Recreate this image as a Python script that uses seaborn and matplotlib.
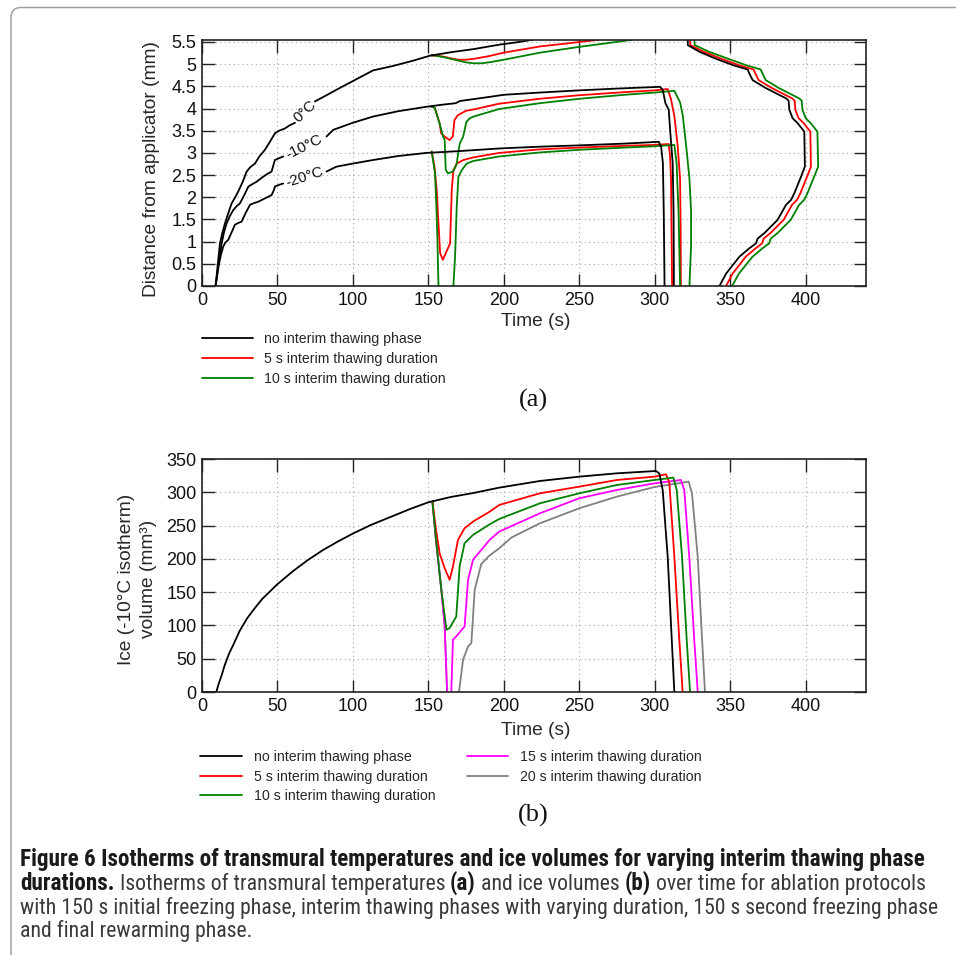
import matplotlib
matplotlib.use("Agg")
import matplotlib.pyplot as plt
import pandas as pd
import seaborn as sns
from matplotlib import font_manager
from matplotlib.colors import to_hex
from matplotlib.patches import FancyBboxPatch
from matplotlib.transforms import IdentityTransform
from matplotlib.ticker import MultipleLocator, FuncFormatter

# ---------------- data ----------------
SERIES_A = ["no interim thawing phase", "5 s interim thawing duration", "10 s interim thawing duration"]
SERIES_B = SERIES_A + ["15 s interim thawing duration", "20 s interim thawing duration"]
COLORS = ["#000000", "#ff0000", "#008000", "#ff00ff", "#808080"]
ISO_LABELS = ["0°C", "-10°C", "-20°C"]

# (a) 0 °C isotherm
a0_black_t1 = [9.0, 10.5, 11.9, 13.5, 15.2, 17.5, 19.6, 22.0, 24.0, 27.0, 29.6, 32.0, 35.1, 38.0, 41.7, 45.0, 48.3, 51.0, 54.9, 58.0, 61.6]
a0_black_v1 = [0.0, 0.5, 0.96, 1.2, 1.41, 1.65, 1.86, 2.0, 2.13, 2.35, 2.58, 2.68, 2.76, 2.92, 3.07, 3.25, 3.44, 3.5, 3.55, 3.62, 3.68]
a0_black_t2 = [74.8, 82.5, 90.0, 100.0, 113.4, 126.6, 140.0, 150.9, 165.0, 180.0, 197.0, 210.0, 219.0]
a0_black_v2 = [4.16, 4.30, 4.44, 4.62, 4.86, 4.96, 5.08, 5.19, 5.27, 5.34, 5.44, 5.50, 5.55]
a0_black_t3 = [321.9, 321.9, 329.6, 340.0, 351.7, 361.6, 362.7, 364.9, 373.7, 387.0, 388.7, 389.2, 391.4, 394.7, 399.1, 399.5, 396.9, 392.5, 390.3, 387.0, 381.4, 372.6, 368.2, 367.1, 362.7, 356.1, 351.7, 347.3, 342.9]
a0_black_v3 = [5.55, 5.43, 5.28, 5.13, 4.98, 4.88, 4.79, 4.64, 4.46, 4.23, 4.18, 3.97, 3.78, 3.67, 3.48, 2.69, 2.46, 2.09, 1.94, 1.83, 1.49, 1.19, 1.07, 0.96, 0.85, 0.66, 0.47, 0.28, 0.0]
a0_red_t2 = [152.0, 155.0, 160.0, 165.0, 170.0, 175.0, 180.0, 190.0, 200.0, 212.0, 224.0, 240.0, 263.0]
a0_red_v2 = [5.20, 5.19, 5.17, 5.13, 5.10, 5.10, 5.12, 5.18, 5.26, 5.33, 5.40, 5.46, 5.55]
a0_red_t3 = [323.4, 323.6, 332.5, 343.5, 355.5, 365.5, 366.7, 368.9, 377.7, 391.0, 392.7, 393.2, 395.4, 398.7, 403.1, 403.5, 400.9, 396.5, 394.3, 391.0, 385.4, 376.6, 372.2, 371.1, 366.9, 360.3, 356.0, 351.6, 347.3]
a0_red_v3 = [5.55, 5.43, 5.28, 5.13, 4.98, 4.88, 4.79, 4.64, 4.46, 4.23, 4.18, 3.97, 3.78, 3.67, 3.48, 2.69, 2.46, 2.09, 1.94, 1.83, 1.49, 1.19, 1.07, 0.96, 0.85, 0.66, 0.47, 0.28, 0.0]
a0_green_t2 = [152.0, 155.0, 160.0, 165.0, 170.0, 175.0, 180.0, 185.0, 190.0, 200.0, 212.0, 224.0, 250.0, 270.0, 285.0]
a0_green_v2 = [5.20, 5.19, 5.16, 5.12, 5.08, 5.04, 5.02, 5.02, 5.04, 5.10, 5.18, 5.26, 5.39, 5.48, 5.55]
a0_green_t3 = [326.3, 326.5, 336.0, 348.0, 360.3, 370.2, 371.4, 373.6, 382.4, 395.6, 397.4, 397.9, 400.1, 403.4, 407.8, 408.3, 405.6, 401.2, 399.0, 395.7, 390.1, 381.3, 376.9, 375.8, 371.4, 364.8, 360.3, 355.8, 351.3]
a0_green_v3 = [5.55, 5.43, 5.28, 5.13, 4.98, 4.88, 4.79, 4.64, 4.46, 4.23, 4.18, 3.97, 3.78, 3.67, 3.48, 2.69, 2.46, 2.09, 1.94, 1.83, 1.49, 1.19, 1.07, 0.96, 0.85, 0.66, 0.47, 0.28, 0.0]

# (a) -10 °C isotherm
a10_black_t1 = [9.0, 11.0, 13.0, 14.5, 16.3, 18.5, 20.7, 23.0, 25.1, 28.0, 30.7, 33.5, 36.2, 40.0, 43.0, 46.1, 47.3, 48.3, 51.0, 53.8]
a10_black_v1 = [0.0, 0.5, 0.95, 1.2, 1.41, 1.58, 1.71, 1.8, 1.86, 2.05, 2.24, 2.3, 2.35, 2.45, 2.52, 2.58, 2.72, 2.84, 2.88, 2.92]
a10_black_t2 = [82.5, 87.0, 100.0, 113.4, 130.0, 148.7, 160.0, 168.0, 171.0, 190.0, 200.0, 223.7, 250.0, 275.0, 303.5, 305.3, 307.1, 309.3, 310.2, 311.9, 312.5, 312.7]
a10_black_v2 = [3.37, 3.52, 3.68, 3.82, 3.94, 4.04, 4.09, 4.12, 4.17, 4.26, 4.31, 4.36, 4.41, 4.45, 4.49, 4.42, 4.12, 3.97, 3.52, 2.77, 1.64, 0.0]
a10_red_t = [152.0, 154.2, 157.4, 158.5, 160.7, 164.0, 166.2, 167.3, 169.5, 175.0, 180.0, 197.0, 223.7, 250.0, 280.0, 300.0, 308.6, 310.8, 313.0, 315.2, 316.8, 317.2, 317.3]
a10_red_v = [4.04, 4.02, 3.67, 3.44, 3.37, 3.29, 3.37, 3.74, 3.85, 3.95, 3.98, 4.11, 4.22, 4.30, 4.37, 4.41, 4.44, 4.21, 3.83, 3.16, 2.41, 1.2, 0.0]
a10_green_t = [152.0, 154.2, 157.4, 159.7, 160.8, 161.5, 163.0, 166.4, 168.6, 170.8, 173.0, 175.2, 177.4, 180.0, 197.0, 223.7, 250.0, 280.0, 300.0, 313.0, 316.8, 318.6, 320.8, 323.0, 324.1, 324.1, 323.0]
a10_green_v = [4.04, 4.02, 3.67, 3.37, 3.3, 2.62, 2.54, 2.58, 2.73, 3.21, 3.36, 3.7, 3.78, 3.82, 3.99, 4.12, 4.22, 4.31, 4.36, 4.40, 4.14, 3.84, 3.17, 2.42, 1.67, 0.92, 0.0]

# (a) -20 °C isotherm
a20_black_t1 = [9.0, 11.0, 12.5, 14.1, 15.5, 17.4, 19.5, 21.8, 24.0, 26.2, 29.0, 31.8, 34.5, 37.3, 42.0, 46.1, 47.5, 48.3, 51.0, 53.8]
a20_black_v1 = [0.0, 0.45, 0.7, 0.89, 0.98, 1.04, 1.2, 1.38, 1.42, 1.45, 1.65, 1.83, 1.87, 1.9, 1.98, 2.05, 2.15, 2.24, 2.28, 2.31]
a20_black_t2 = [82.5, 89.1, 100.0, 113.4, 130.0, 148.7, 170.0, 197.0, 223.7, 250.0, 280.0, 302.7, 304.3, 305.4, 306.0, 306.5]
a20_black_v2 = [2.58, 2.69, 2.76, 2.84, 2.93, 3.0, 3.04, 3.1, 3.14, 3.17, 3.21, 3.25, 3.13, 2.77, 1.64, 0.0]
a20_red_t = [152.2, 154.0, 155.5, 156.7, 157.8, 159.6, 162.3, 164.4, 165.5, 166.6, 168.8, 173.2, 180.0, 197.0, 223.7, 250.0, 280.0, 300.0, 309.3, 310.2, 310.8, 311.5]
a20_red_v = [3.03, 2.7, 2.17, 1.41, 0.74, 0.59, 0.8, 0.96, 2.17, 2.61, 2.76, 2.84, 2.9, 3.0, 3.08, 3.12, 3.16, 3.18, 3.2, 2.9, 2.42, 0.0]
a20_green_t1 = [152.2, 154.4, 155.3, 156.0, 156.7]
a20_green_v1 = [3.03, 2.54, 1.8, 1.04, 0.0]
a20_green_t2 = [166.6, 167.7, 168.8, 169.9, 172.1, 175.4, 180.0, 197.0, 223.7, 250.0, 280.0, 300.0, 313.0, 314.5, 315.8, 316.8]
a20_green_v2 = [0.0, 0.67, 1.79, 2.46, 2.61, 2.76, 2.82, 2.92, 3.01, 3.07, 3.12, 3.15, 3.18, 2.77, 1.64, 0.0]

# (b) ice volume of the -10 °C isotherm (mm^3)
b_black_t = [0.0, 9.5, 11.0, 13.0, 15.0, 18.0, 21.0, 25.0, 30.0, 35.0, 40.0, 50.0, 60.0, 70.0, 80.0, 90.0, 100.0, 112.0, 125.0, 138.0, 150.0, 165.0, 180.0, 197.0, 224.0, 250.0, 275.0, 300.9, 303.1, 305.3, 308.6, 311.3, 313.0]
b_black_v = [0, 0, 12, 25, 40, 58, 72, 92, 111, 126, 140, 162, 181, 198, 213, 226, 238, 251, 263, 275, 285, 293, 299, 307, 317, 323.5, 328.5, 332, 328, 303, 203, 78, 0]
b_red_t = [152.7, 155.0, 157.5, 160.8, 164.1, 166.3, 169.6, 174.0, 179.6, 190.0, 197.0, 224.0, 250.0, 275.0, 300.0, 307.5, 309.7, 313.0, 316.3, 318.5]
b_red_v = [286, 245, 208, 186, 168.5, 188.5, 228.5, 246, 256, 270, 281, 298.5, 308.5, 318.5, 323.5, 327, 314, 203, 78, 0]
b_green_t = [152.7, 155.0, 158.6, 162.0, 164.1, 168.5, 170.7, 174.0, 179.6, 190.0, 197.0, 224.0, 250.0, 275.0, 300.0, 312.4, 314.6, 318.1, 321.2, 323.4]
b_green_v = [286, 230, 153.5, 93.5, 96, 113.5, 188.5, 223.5, 236, 251, 260, 283.5, 298.5, 311, 318.5, 322, 303, 203, 78, 0]
b_magenta_t1 = [152.7, 155.0, 158.6, 160.8, 162.4]
b_magenta_v1 = [286, 230, 153.5, 100, 0]
b_magenta_t2 = [165.2, 166.3, 168.5, 174.0, 176.3, 179.6, 190.6, 197.0, 224.0, 250.0, 275.0, 300.0, 317.4, 319.6, 322.9, 326.2, 328.5]
b_magenta_v2 = [0, 78.5, 83.5, 98.5, 168.5, 198.5, 228.5, 241, 268.5, 291, 303.5, 313.5, 318.5, 303, 203, 78, 0]
b_gray_t1 = [152.7, 155.0, 158.6, 160.8, 162.4]
b_gray_v1 = [286, 230, 153.5, 100, 0]
b_gray_t2 = [170.3, 173.0, 176.3, 178.5, 180.7, 185.0, 190.0, 197.0, 205.0, 224.0, 250.0, 275.0, 300.0, 322.5, 324.7, 328.5, 331.4, 333.3]
b_gray_v2 = [0, 48.5, 68.5, 73.5, 153.5, 192, 204, 216, 232, 253.5, 276, 293.5, 308, 316, 298, 203, 78, 0]

SEGMENTS_A = [
    (SERIES_A[0], a0_black_t1, a0_black_v1), (SERIES_A[0], a0_black_t2, a0_black_v2), (SERIES_A[0], a0_black_t3, a0_black_v3),
    (SERIES_A[1], a0_red_t2, a0_red_v2), (SERIES_A[1], a0_red_t3, a0_red_v3),
    (SERIES_A[2], a0_green_t2, a0_green_v2), (SERIES_A[2], a0_green_t3, a0_green_v3),
    (SERIES_A[0], a10_black_t1, a10_black_v1), (SERIES_A[0], a10_black_t2, a10_black_v2),
    (SERIES_A[1], a10_red_t, a10_red_v), (SERIES_A[2], a10_green_t, a10_green_v),
    (SERIES_A[0], a20_black_t1, a20_black_v1), (SERIES_A[0], a20_black_t2, a20_black_v2),
    (SERIES_A[1], a20_red_t, a20_red_v),
    (SERIES_A[2], a20_green_t1, a20_green_v1), (SERIES_A[2], a20_green_t2, a20_green_v2),
]
SEGMENTS_B = [
    (SERIES_B[0], b_black_t, b_black_v), (SERIES_B[1], b_red_t, b_red_v), (SERIES_B[2], b_green_t, b_green_v),
    (SERIES_B[3], b_magenta_t1, b_magenta_v1), (SERIES_B[3], b_magenta_t2, b_magenta_v2),
    (SERIES_B[4], b_gray_t1, b_gray_v1), (SERIES_B[4], b_gray_t2, b_gray_v2),
]


def build(segments):
    rows = []
    for k, (name, ts, vs) in enumerate(segments):
        for t, v in zip(ts, vs):
            rows.append((name, k, t, v))
    return pd.DataFrame(rows, columns=["series", "seg", "t", "v"])


# ---------------- style ----------------
sns.set_theme(style="ticks")
plt.rcParams["font.family"] = ["Liberation Sans", "DejaVu Sans"]
plt.rcParams["axes.unicode_minus"] = False

W, H = 956, 955
fig = plt.figure(figsize=(W / 100, H / 100), dpi=100)
fig.patch.set_facecolor("white")

axA = fig.add_axes([202 / W, 1 - 286 / H, 664 / W, 246 / H])
axB = fig.add_axes([202 / W, 1 - 692 / H, 664 / W, 233 / H])

palette = dict(zip(SERIES_B, COLORS))
ZORDER = {"#000000": 2.6, "#ff0000": 2.3, "#008000": 2.4, "#ff00ff": 2.2, "#808080": 2.1}

for ax, segs, order in ((axA, SEGMENTS_A, SERIES_A), (axB, SEGMENTS_B, SERIES_B)):
    sns.lineplot(data=build(segs), x="t", y="v", hue="series", hue_order=order,
                 palette=palette, units="seg", estimator=None, sort=False,
                 linewidth=1.3, ax=ax)
    for ln in ax.lines:
        ln.set_zorder(ZORDER.get(to_hex(ln.get_color()), 2.0))


def style(ax, ymax, ystep):
    ax.set_xlim(0, 440)
    ax.set_ylim(0, ymax)
    ax.xaxis.set_major_locator(MultipleLocator(50))
    ax.yaxis.set_major_locator(MultipleLocator(ystep))
    ax.yaxis.set_major_formatter(FuncFormatter(lambda v, p: f"{v:g}"))
    ax.tick_params(direction="in", length=9, width=1.0, top=True, right=True,
                   labelsize=13, pad=4, color="#222222", labelcolor="#111111")
    ax.grid(True, linestyle=(0, (1, 3)), color="#a8a8a8", linewidth=0.8)
    ax.set_axisbelow(True)
    for s in ax.spines.values():
        s.set_linewidth(1.2)
        s.set_color("#222222")
        s.set_zorder(3)


style(axA, 5.545, 0.5)
style(axB, 350, 50)

axA.set_xlabel("Time (s)", fontsize=13.8)
axA.set_ylabel("Distance from applicator (mm)", fontsize=13.8)
axA.xaxis.set_label_coords(0.503, -0.11)
axA.yaxis.set_label_coords(-0.064, 0.476)
axB.set_xlabel("Time (s)", fontsize=13.8)
axB.set_ylabel("Ice (-10°C isotherm)\nvolume (mm³)", fontsize=13.8, linespacing=1.38)
axB.xaxis.set_label_coords(0.503, -0.128)
axB.yaxis.set_label_coords(-0.068, 0.485)

# contour labels
for (tx, vy, rot), lab in zip([(68.0, 3.93, 43), (68.0, 3.14, 26), (68.0, 2.45, 18)], ISO_LABELS):
    axA.text(tx, vy, lab, rotation=rot, rotation_mode="anchor", ha="center", va="center",
             fontsize=11, color="#111111", zorder=4)

# legends
sns.move_legend(axA, loc="upper left", bbox_to_anchor=(0.0, -0.188), frameon=False, title=None,
                fontsize=10.2, handlelength=3.6, handletextpad=0.78, labelspacing=0.4,
                borderpad=0, borderaxespad=0)
sns.move_legend(axB, loc="upper left", bbox_to_anchor=(-0.003, -0.249), frameon=False, title=None,
                ncol=2, fontsize=10.2, handlelength=2.95, handletextpad=0.85, labelspacing=0.4,
                columnspacing=2.2, borderpad=0, borderaxespad=0)

fig.text(533 / W, 1 - 400 / H, "(a)", ha="center", va="center", fontsize=19,
         family=["Liberation Serif", "DejaVu Serif"], color="#111111")
fig.text(533 / W, 1 - 815 / H, "(b)", ha="center", va="center", fontsize=19,
         family=["Liberation Serif", "DejaVu Serif"], color="#111111")

# frame of the figure box
fig.add_artist(FancyBboxPatch((11, -60), 1200, H - 7.5 + 60, boxstyle="round,pad=0,rounding_size=10",
                              transform=IdentityTransform(), fill=False, ec="#a0a0a0", lw=1.1))

# caption font: needs a real regular and a real bold face
ttf = font_manager.fontManager.ttflist


def _w(w):
    return font_manager.weight_dict.get(w, 400) if isinstance(w, str) else w


def has_both(fam):
    ws = [_w(f.weight) for f in ttf if f.name == fam and f.style == "normal"]
    return bool(ws) and min(ws) <= 400 and max(ws) >= 700 and any(w == 400 for w in ws)


cap_family = next((n for n in ["Liberation Sans Narrow", "Roboto Condensed", "Open Sans Condensed", "Lato", "Open Sans"]
                   if has_both(n)), "DejaVu Sans")
renderer = fig.canvas.get_renderer()


def text_w(s, size, weight):
    t = fig.text(0, 0, s, fontsize=size, fontweight=weight, family=cap_family)
    w = t.get_window_extent(renderer).width
    t.remove()
    return w


CAP = [
    [("Figure 6 Isotherms of transmural temperatures and ice volumes for varying interim thawing phase", True)],
    [("durations.", True), (" Isotherms of transmural temperatures ", False), ("(a)", True),
     (" and ice volumes ", False), ("(b)", True), (" over time for ablation protocols", False)],
    [("with 150 s initial freezing phase, interim thawing phases with varying duration, 150 s second freezing phase", False)],
    [("and final rewarming phase.", False)],
]
size_b = 12 * 908 / text_w(CAP[0][0][0], 12, "bold")
size_r = 12 * 918 / text_w(CAP[2][0][0], 12, "normal")
sp_w = {True: text_w("a a", size_b, "bold") - text_w("aa", size_b, "bold"),
        False: text_w("a a", size_r, "normal") - text_w("aa", size_r, "normal")}
baselines = [866, 890, 914, 937]
for runs, yb in zip(CAP, baselines):
    x = 20.0
    for s, bold in runs:
        lead = len(s) - len(s.lstrip(" "))
        trail = len(s) - len(s.rstrip(" "))
        x += lead * sp_w[bold]
        t = fig.text(x / W, 1 - yb / H, s.strip(" "), fontsize=size_b if bold else size_r,
                     fontweight="bold" if bold else "normal", family=cap_family,
                     color="#1a1a1a" if bold else "#3a3a3a", va="baseline", ha="left")
        bb = t.get_window_extent(renderer)
        x = bb.x1 + trail * sp_w[bold]

fig.savefig("out.png", dpi=100)
